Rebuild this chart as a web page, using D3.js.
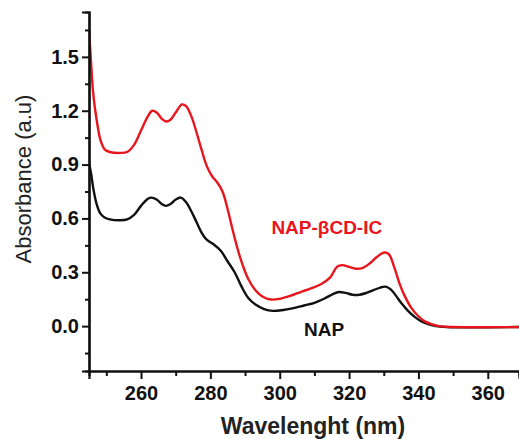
<!DOCTYPE html>
<html>
<head>
<meta charset="utf-8">
<script src="https://cdnjs.cloudflare.com/ajax/libs/d3/7.8.5/d3.min.js"></script>
<style>
  body { margin: 0; background: #fff; }
  svg { display: block; font-family: "Liberation Sans", Arial, sans-serif; }
</style>
</head>
<body>
<div id="chart"></div>
<script>
  var width = 519,
      height = 439;

  // NAP-βCD-IC spectrum (red)
  var icWl  = [245, 245.5, 246.2, 247.2, 248.4, 249.5, 251, 254, 256, 258, 260, 262, 263.2, 264.5, 266, 267.3, 268.5, 270, 271.8, 273, 274.5, 276, 277.5, 279, 280.5, 282, 283.5, 285, 286.5, 288, 289.5, 291, 293, 295, 297.5, 300, 303, 306, 309, 312, 314.5, 316.5, 318, 320, 322, 324, 326, 328, 330.2, 331.5, 333, 334.5, 336, 338, 340, 342, 344, 346, 350, 369];
  var icAbs = [1.65, 1.50, 1.30, 1.15, 1.03, 0.985, 0.97, 0.965, 0.97, 1.01, 1.09, 1.17, 1.20, 1.19, 1.155, 1.14, 1.15, 1.19, 1.235, 1.225, 1.17, 1.08, 0.98, 0.89, 0.835, 0.80, 0.75, 0.65, 0.53, 0.42, 0.33, 0.26, 0.20, 0.165, 0.148, 0.152, 0.168, 0.19, 0.21, 0.235, 0.27, 0.33, 0.34, 0.33, 0.32, 0.325, 0.35, 0.385, 0.41, 0.40, 0.33, 0.24, 0.17, 0.10, 0.055, 0.025, 0.01, 0.0, -0.005, -0.005];

  // NAP spectrum (black)
  var napWl  = [245, 245.6, 246.3, 247.2, 248.2, 249.5, 251, 254, 256, 258, 260, 262, 263, 264.5, 266, 267.2, 268.5, 270, 271.5, 273, 274.5, 276, 277.5, 279, 281, 283, 285, 287, 289, 291, 293, 295.5, 298, 301, 304, 307, 310, 313, 315.5, 317, 319, 321, 323, 325, 327, 329, 330.5, 332, 333.5, 335, 337, 339, 341, 343, 345, 348, 369];
  var napAbs = [0.91, 0.85, 0.76, 0.68, 0.63, 0.605, 0.595, 0.59, 0.595, 0.62, 0.67, 0.71, 0.716, 0.705, 0.68, 0.67, 0.68, 0.705, 0.716, 0.69, 0.64, 0.58, 0.52, 0.48, 0.455, 0.42, 0.36, 0.30, 0.22, 0.155, 0.12, 0.095, 0.085, 0.09, 0.10, 0.115, 0.13, 0.155, 0.18, 0.19, 0.185, 0.175, 0.175, 0.185, 0.2, 0.215, 0.22, 0.205, 0.17, 0.13, 0.085, 0.05, 0.025, 0.01, 0.0, -0.005, -0.005];

  var xTicks = [260, 280, 300, 320, 340, 360];
  var xMinor = [250, 270, 290, 310, 330, 350];
  var yTicks = [0.0, 0.3, 0.6, 0.9, 1.2, 1.5];
  var yMinor = [-0.15, 0.15, 0.45, 0.75, 1.05, 1.35, 1.65];

  // label anchors in data units: [wavelength, absorbance]
  var labels = [
    { text: "NAP-\u03B2CD-IC", wl: 297.6, abs: 0.515, color: "#e8161c" },
    { text: "NAP", wl: 307.0, abs: -0.055, color: "#111" }
  ];

  var margin = { left: 89, top: 12, right: 0, bottom: 68 };

  var x = d3.scaleLinear()
      .domain([245, 369])
      .range([margin.left, width - margin.right]);

  var y = d3.scaleLinear()
      .domain([-0.25, 1.75])
      .range([height - margin.bottom, margin.top]);

  var svg = d3.select("#chart").append("svg")
      .attr("width", width)
      .attr("height", height);

  var line = d3.line()
      .x(function(d) { return x(d[0]); })
      .y(function(d) { return y(d[1]); })
      .curve(d3.curveCatmullRom.alpha(0.5));

  svg.append("defs").append("clipPath")
      .attr("id", "clip")
    .append("rect")
      .attr("x", margin.left)
      .attr("y", margin.top)
      .attr("width", width - margin.left)
      .attr("height", height - margin.bottom - margin.top);

  var plot = svg.append("g").attr("clip-path", "url(#clip)");

  plot.append("path")
      .datum(d3.zip(napWl, napAbs))
      .attr("d", line)
      .attr("fill", "none")
      .attr("stroke", "#111")
      .attr("stroke-width", 2.4);

  plot.append("path")
      .datum(d3.zip(icWl, icAbs))
      .attr("d", line)
      .attr("fill", "none")
      .attr("stroke", "#e8161c")
      .attr("stroke-width", 2.4);

  // minor ticks
  var gxMinor = svg.append("g")
      .attr("transform", "translate(0," + (height - margin.bottom) + ")")
      .call(d3.axisBottom(x).tickValues(xMinor).tickSize(5).tickFormat(""));
  var gyMinor = svg.append("g")
      .attr("transform", "translate(" + margin.left + ",0)")
      .call(d3.axisLeft(y).tickValues(yMinor).tickSize(4).tickFormat(""));

  var gx = svg.append("g")
      .attr("transform", "translate(0," + (height - margin.bottom) + ")")
      .call(d3.axisBottom(x).tickValues(xTicks).tickSize(8).tickPadding(7)
        .tickFormat(d3.format("d")));

  var gy = svg.append("g")
      .attr("transform", "translate(" + margin.left + ",0)")
      .call(d3.axisLeft(y).tickValues(yTicks).tickSize(7).tickPadding(3)
        .tickFormat(d3.format(".1f")));

  [gxMinor, gyMinor, gx, gy].forEach(function(g) {
    g.selectAll(".domain").attr("stroke-width", 2.2).attr("stroke", "#111");
    g.selectAll(".tick line").attr("stroke-width", 2).attr("stroke", "#111");
    g.selectAll(".tick text")
      .attr("font-family", "'Liberation Sans', Arial, sans-serif")
      .attr("font-size", 20)
      .attr("font-weight", "bold")
      .attr("fill", "#111");
  });

  svg.append("text")
      .attr("x", 313)
      .attr("y", 434)
      .attr("text-anchor", "middle")
      .attr("font-size", 23)
      .attr("font-weight", "bold")
      .attr("fill", "#222")
      .text("Wavelenght (nm)");

  svg.append("text")
      .attr("transform", "translate(31,179) rotate(-90)")
      .attr("text-anchor", "middle")
      .attr("font-size", 22)
      .attr("fill", "#222")
      .text("Absorbance (a.u)");

  svg.selectAll(".label")
    .data(labels)
    .enter().append("text")
      .attr("class", "label")
      .attr("x", function(d) { return x(d.wl); })
      .attr("y", function(d) { return y(d.abs); })
      .attr("font-size", 19)
      .attr("font-weight", "bold")
      .attr("fill", function(d) { return d.color; })
      .text(function(d) { return d.text; });
</script>
</body>
</html>
